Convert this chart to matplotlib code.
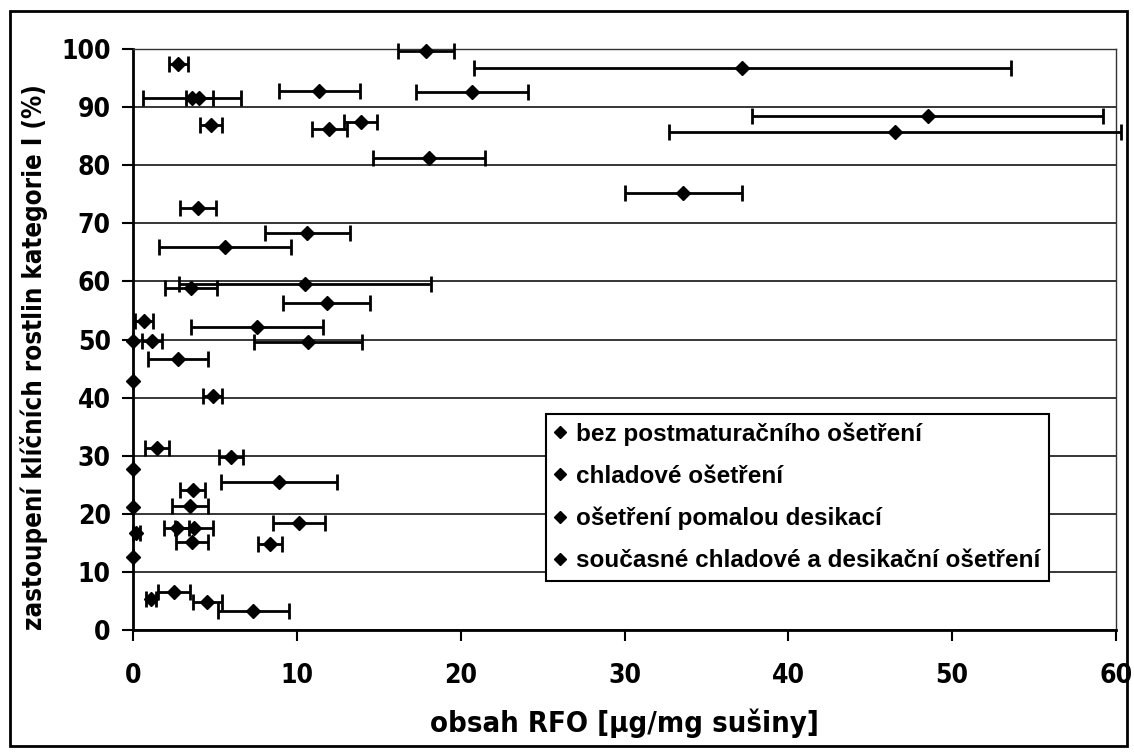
import numpy as np
import matplotlib
matplotlib.use('Agg')
import matplotlib.pyplot as plt
from matplotlib.lines import Line2D
from matplotlib.patches import Rectangle

# hodnoty: obsah RFO (x), zastoupení klíčních rostlin (y), směr. odchylka (xerr)
labels = ['bez postmaturačního ošetření', 'chladové ošetření',
          'ošetření pomalou desikací', 'současné chladové a desikační ošetření']

s1_x = [0, 0, 0, 0, 0, 1.08, 0.2, 0.69, 1.18, 1.45, 2.5]
s1_y = [49.8, 42.9, 27.7, 21.1, 12.6, 5.3, 16.7, 53.2, 49.8, 31.3, 6.6]
s1_e = [0, 0, 0, 0, 0, 0.3, 0.2, 0.56, 0.62, 0.72, 0.95]

s2_x = [2.77, 4.05, 4.76, 3.95, 3.52, 2.77, 4.87, 3.64, 2.67, 3.72, 3.58, 4.54]
s2_y = [97.5, 91.5, 87.0, 72.6, 58.8, 46.6, 40.2, 24.1, 17.5, 17.5, 15.2, 4.9]
s2_e = [0.56, 0.81, 0.68, 1.11, 1.58, 1.83, 0.57, 0.76, 0.76, 1.18, 0.98, 0.87]

s3_x = [3.58, 11.37, 11.99, 13.9, 5.62, 10.64, 11.82, 7.55, 10.7, 5.98, 3.48, 8.36]
s3_y = [91.5, 92.7, 86.3, 87.5, 66.0, 68.4, 56.2, 52.2, 49.6, 29.7, 21.3, 14.8]
s3_e = [3.0, 2.46, 1.09, 1.02, 4.05, 2.6, 2.65, 4.03, 3.3, 0.76, 1.09, 0.71]

s4_x = [17.9, 37.2, 20.68, 48.5, 46.5, 18.06, 33.6, 10.5, 8.91, 10.13, 7.35]
s4_y = [99.7, 96.8, 92.6, 88.5, 85.8, 81.3, 75.3, 59.6, 25.5, 18.4, 3.2]
s4_e = [1.7, 16.4, 3.4, 10.7, 13.8, 3.43, 3.6, 7.7, 3.54, 1.57, 2.19]

series = [(s1_x, s1_y, s1_e), (s2_x, s2_y, s2_e), (s3_x, s3_y, s3_e), (s4_x, s4_y, s4_e)]

xticks = [0, 10, 20, 30, 40, 50, 60]
yticks = [0, 10, 20, 30, 40, 50, 60, 70, 80, 90, 100]

plt.rcParams['font.family'] = ['DejaVu Sans']
plt.rcParams['font.stretch'] = 'condensed'

fig = plt.figure(figsize=(11.34, 7.53), dpi=100)
ax = fig.add_axes([133/1134, 1-630/753, 983/1134, 581/753])

for x, y, e in series:
    ax.errorbar(x, y, xerr=e, fmt='D', color='black', ms=7.5, elinewidth=2,
                capsize=6, capthick=2, clip_on=False, zorder=3)

ax.set_xlim(0, 60)
ax.set_ylim(0, 100)
ax.set_xticks(xticks)
ax.set_yticks(yticks)
ax.yaxis.grid(True, color='black', lw=1.1)
ax.set_axisbelow(True)
for s in ['left', 'bottom']:
    ax.spines[s].set_linewidth(2)
for s in ['right', 'top']:
    ax.spines[s].set_linewidth(1)
    ax.spines[s].set_color('#333333')
ax.tick_params(direction='out', length=8, width=1.5, labelsize=19, pad=8)
ax.tick_params(axis='x', pad=16)
for t in ax.get_xticklabels() + ax.get_yticklabels():
    t.set_fontweight('bold')

ax.set_xlabel('obsah RFO [µg/mg sušiny]', fontsize=21, fontweight='bold', labelpad=14)
ax.set_ylabel('zastoupení klíčních rostlin kategorie I (%)', fontsize=18.5,
              fontweight='bold')
ax.yaxis.set_label_coords(-0.086, 0.47)

handles = [Line2D([], [], marker='D', color='black', ls='none', ms=6) for _ in labels]
leg = ax.legend(handles, labels, loc='upper left', bbox_to_anchor=(0.42, 0.372),
                frameon=True, fancybox=False, edgecolor='black', framealpha=1,
                prop={'family': ['Liberation Sans', 'DejaVu Sans'], 'weight': 'bold',
                      'size': 17.5},
                handlelength=0.5, handletextpad=0.4, labelspacing=0.78,
                borderpad=0.35, borderaxespad=0)
leg.get_frame().set_linewidth(1.5)

fig.patches.append(Rectangle((10/1134, 7/753), 1117/1134, 735/753, transform=fig.transFigure,
                             fill=False, edgecolor='black', lw=2))

fig.savefig('out.png', dpi=100)
